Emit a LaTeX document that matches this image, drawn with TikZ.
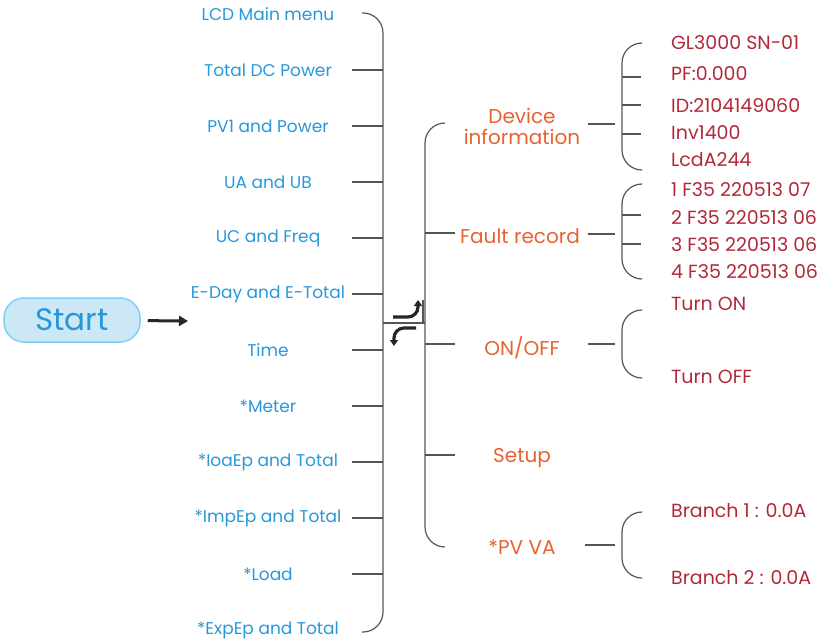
\documentclass[tikz,border=0pt]{standalone}
\usepackage{fontspec}
\setmainfont{Poppins}
\usetikzlibrary{arrows.meta,positioning,calc}
\definecolor{menublue}{RGB}{38,152,218}
\definecolor{startfill}{RGB}{204,232,246}
\definecolor{startline}{RGB}{128,206,242}
\definecolor{suborange}{RGB}{232,98,48}
\definecolor{itemred}{RGB}{178,40,58}
\definecolor{treegrey}{RGB}{88,84,84}
\tikzset{
  base/.style={inner sep=0pt, align=center},
  mainitem/.style={base, font=\fontsize{17}{19}\selectfont, text=menublue},
  subitem/.style={base, font=\fontsize{20}{21}\selectfont, text=suborange},
  leaf/.style={base, anchor=west, font=\fontsize{19}{20}\selectfont, text=itemred},
  startbox/.style={base, rectangle, rounded corners=20pt, draw=startline, fill=startfill, line width=1.5pt, minimum width=136pt, minimum height=44pt, text=menublue, font=\fontsize{31}{33}\selectfont},
  bracket/.style={draw=treegrey, line width=1.2pt, rounded corners=20pt},
  tick/.style={draw=treegrey, line width=1.2pt},
  arr/.style={-{Triangle[length=9pt,width=10pt]}, line width=3pt, draw=black!85},
  turn/.style={-{Triangle[length=6pt,width=8pt]}, line width=3.2pt, draw=black!85, rounded corners=10pt},
}
\begin{document}
\begin{tikzpicture}[x=1pt,y=-1pt]
  \useasboundingbox (0,0) rectangle (818,644);
  % start
  \node[startbox] (start) at (72,320) {Start};
  \coordinate (menuin) at (188,321);
  \draw[arr,shorten <=7pt] (start) -- (menuin);
  % main menu column
  \foreach \name/\txt [count=\i from 0] in {lcd/LCD Main menu,dcp/Total DC Power,pv1/PV1 and Power,uaub/UA and UB,ucf/UC and Freq,eday/E-Day and E-Total,time/Time,meter/*Meter,ioa/*IoaEp and Total,imp/*ImpEp and Total,load/*Load,exp/*ExpEp and Total}
    \node[mainitem] (\name) at (268,14+56*\i) {\txt};
  \draw[bracket] (362,13) -- (383,13) -- (383,632) -- (362,632);
  \foreach \i in {1,...,10}
    \draw[tick] (352,14+56*\i) -- (383,14+56*\i);
  % link box
  \draw[tick] (423,300) -- (423,323);
  \draw[draw=treegrey, line width=2pt] (383,323) -- (425,323);
  \draw[turn] (393,317) -- (418,317) -- (418,300);
  \draw[turn] (416,328) -- (394,328) -- (394,346);
  % sub menu column
  \node[subitem] (dev) at (522,126) {Device\\information};
  \node[subitem] (fault) at (520,236) {Fault record};
  \node[subitem] (onoff) at (522,348) {ON/OFF};
  \node[subitem] (setup) at (522,458) {Setup};
  \node[subitem] (pvva) at (522,547) {*PV VA};
  \draw[bracket] (445,123) -- (425,123) -- (425,547) -- (445,547);
  \foreach \y in {233,344,455}
    \draw[tick] (425,\y) -- (455,\y);
  \foreach \y in {124,234,344}
    \draw[tick] (588,\y) -- (615,\y);
  \draw[tick] (585,545) -- (615,545);
  % device information
  \node[leaf] (gl) at (671,43) {GL3000 SN-01};
  \node[leaf] (pf) at (671,74) {PF:0.000};
  \node[leaf] (id) at (671,106) {ID:2104149060};
  \node[leaf] (inv) at (671,133) {Inv1400};
  \node[leaf] (lcda) at (671,160) {LcdA244};
  \draw[bracket] (641,43) -- (622,43) -- (622,170) -- (641,170);
  \foreach \y in {77,105,134}
    \draw[tick] (622,\y) -- (641,\y);
  % fault record
  \node[leaf] (f1) at (671,190) {1 F35 220513 07};
  \node[leaf] (f2) at (671,218) {2 F35 220513 06};
  \node[leaf] (f3) at (671,245) {3 F35 220513 06};
  \node[leaf] (f4) at (671,272) {4 F35 220513 06};
  \draw[bracket] (641,184) -- (622,184) -- (622,279) -- (641,279);
  \foreach \y in {215,244}
    \draw[tick] (622,\y) -- (641,\y);
  % on/off
  \node[leaf] (ton) at (671,304) {Turn ON};
  \node[leaf] (toff) at (671,377) {Turn OFF};
  \draw[bracket] (641,310) -- (622,310) -- (622,378) -- (641,378);
  % pv va
  \node[leaf] (br1) at (671,511) {Branch 1 : 0.0A};
  \node[leaf] (br2) at (671,578) {Branch 2 : 0.0A};
  \draw[bracket] (641,512) -- (622,512) -- (622,578) -- (641,578);
\end{tikzpicture}
\end{document}
